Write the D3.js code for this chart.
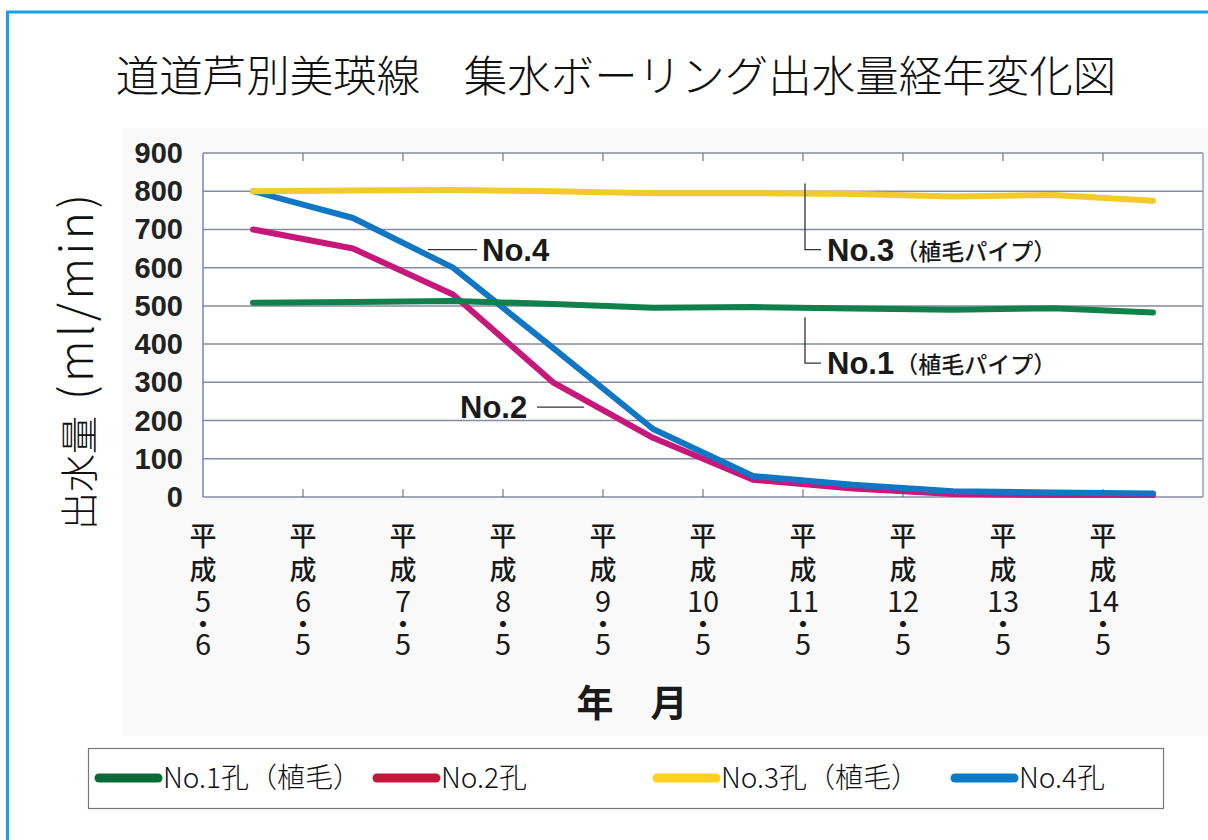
<!DOCTYPE html>
<html>
<head>
<meta charset="utf-8">
<script src="https://cdn.jsdelivr.net/npm/d3@7"></script>
<style>
  body { margin: 0; background: #fff; }
  svg { display: block; }
</style>
</head>
<body>
<svg id="chart" width="1208" height="840"></svg>
<script>
// categories (x axis, vertical text)
var years = ['5', '6', '7', '8', '9', '10', '11', '12', '13', '14'];
var months = ['6', '5', '5', '5', '5', '5', '5', '5', '5', '5'];
// series values (ml/min), one per year
var no1 = [508, 510, 513, 505, 495, 497, 493, 490, 494, 483];
var no2 = [700, 650, 530, 300, 155, 45, 22, 8, 5, 5];
var no3 = [800, 802, 803, 800, 795, 795, 793, 786, 790, 775];
var no4 = [800, 730, 600, 390, 178, 55, 32, 15, 12, 9];
var yTicks = [0, 100, 200, 300, 400, 500, 600, 700, 800, 900];

var series = [
  { name: 'No.2孔', values: no2, color: '#c8177a', legend: '#c4173c' },
  { name: 'No.4孔', values: no4, color: '#1177c4', legend: '#0a7bc4' },
  { name: 'No.1孔（植毛）', values: no1, color: '#12804a', legend: '#096b35' },
  { name: 'No.3孔（植毛）', values: no3, color: '#f1cb2b', legend: '#ffd022' }
];
var legendOrder = [2, 0, 3, 1];

var svg = d3.select('#chart');
var jp = '"Noto Sans CJK JP", "Noto Sans", sans-serif';
var lat = '"Liberation Sans", Arial, sans-serif';

// frame
svg.append('rect').attr('x', 122).attr('y', 128).attr('width', 1086).attr('height', 608).attr('fill', '#f9f9f9');
svg.append('line').attr('x1', 6).attr('x2', 1208).attr('y1', 12).attr('y2', 12)
  .attr('stroke', '#17a1e2').attr('stroke-width', 3);
svg.append('line').attr('x1', 7.5).attr('x2', 7.5).attr('y1', 11).attr('y2', 840)
  .attr('stroke', '#17a1e2').attr('stroke-width', 3);

// title
svg.append('text').attr('x', 616).attr('y', 92).attr('text-anchor', 'middle')
  .style('font-family', jp).style('font-size', '43.5px').style('font-weight', 300)
  .attr('fill', '#111').text('道道芦別美瑛線　集水ボーリング出水量経年変化図');

var plotLeft = 203, plotRight = 1203, plotTop = 153, plotBottom = 497;
var x = d3.scaleBand().domain(years).range([plotLeft, plotRight]).padding(0);
var y = d3.scaleLinear().domain([0, 900]).range([plotBottom, plotTop]);

svg.append('rect').attr('x', plotLeft).attr('y', plotTop)
  .attr('width', plotRight - plotLeft).attr('height', plotBottom - plotTop)
  .attr('fill', '#fff');

// grid
svg.selectAll('.grid').data(yTicks).enter().append('line')
  .attr('x1', plotLeft).attr('x2', plotRight)
  .attr('y1', function (d) { return y(d); })
  .attr('y2', function (d) { return y(d); })
  .attr('stroke', '#858ba0').attr('stroke-width', 1.5);
svg.append('line').attr('x1', plotRight).attr('x2', plotRight).attr('y1', plotTop).attr('y2', plotBottom)
  .attr('stroke', '#9aa0b4').attr('stroke-width', 1.5);
svg.append('line').attr('x1', plotLeft).attr('x2', plotLeft).attr('y1', plotTop).attr('y2', plotBottom)
  .attr('stroke', '#6f86c4').attr('stroke-width', 1.5);

// x ticks, top and bottom, inward
var inner = years.slice(1);
svg.selectAll('.tb').data(inner).enter().append('line')
  .attr('x1', function (d) { return x(d); }).attr('x2', function (d) { return x(d); })
  .attr('y1', plotBottom).attr('y2', plotBottom - 8).attr('stroke', '#777').attr('stroke-width', 1.2);
svg.selectAll('.tt').data(inner).enter().append('line')
  .attr('x1', function (d) { return x(d); }).attr('x2', function (d) { return x(d); })
  .attr('y1', plotTop).attr('y2', plotTop + 8).attr('stroke', '#777').attr('stroke-width', 1.2);

// y tick labels
svg.selectAll('.yl').data(yTicks).enter().append('text')
  .attr('x', 183).attr('y', function (d) { return y(d) + 10; })
  .attr('text-anchor', 'end')
  .style('font-family', lat).style('font-size', '29px').style('font-weight', 'bold')
  .attr('fill', '#222').text(function (d) { return d; });

// x labels, stacked vertically in one text each
var xl = svg.selectAll('.xl').data(years).enter().append('text')
  .attr('text-anchor', 'middle').style('font-family', jp).attr('fill', '#1a1a1a');
xl.each(function (d, i) {
  var t = d3.select(this);
  var cx = x(d);
  var rows = [['平', 546, 27, 500], ['成', 580, 27, 500], [d, 612, 29, 400], ['・', 633, 24, 700], [months[i], 655, 29, 400]];
  rows.forEach(function (r) {
    t.append('tspan').attr('x', cx).attr('y', r[1])
      .style('font-size', r[2] + 'px').style('font-weight', r[3]).text(r[0]);
  });
});

// axis titles
var yt = svg.append('text').attr('transform', 'translate(93,530) rotate(-90)').attr('text-anchor', 'start')
  .style('font-family', jp).style('font-weight', 300).attr('fill', '#111');
yt.append('tspan').style('font-size', '38px').text('出水量');
yt.append('tspan').style('font-size', '46px').style('letter-spacing', '3.5px').attr('dx', 16).text('(ml/min)');
svg.append('text').attr('x', 632).attr('y', 717).attr('text-anchor', 'middle')
  .style('font-family', jp).style('font-size', '37px').style('font-weight', 'bold')
  .attr('fill', '#1a1a1a').text('年　月');

// lines
var line = d3.line()
  .x(function (d, i) { return x(years[i]) + x.bandwidth() / 2; })
  .y(function (d) { return y(d); });
svg.selectAll('.series').data(series).enter().append('path')
  .attr('d', function (s) { return line(s.values); })
  .attr('fill', 'none').attr('stroke', function (s) { return s.color; })
  .attr('stroke-width', 6).attr('stroke-linejoin', 'round').attr('stroke-linecap', 'round');

// annotations
var ann = svg.append('g').attr('stroke', '#333').attr('stroke-width', 1.3).attr('fill', 'none');
ann.append('line').attr('x1', 428).attr('x2', 477).attr('y1', y(647)).attr('y2', y(647));
ann.append('line').attr('x1', 537).attr('x2', 584).attr('y1', y(235)).attr('y2', y(235));
ann.append('path').attr('d', 'M805,' + y(820) + 'V' + y(647) + 'H821');
ann.append('path').attr('d', 'M805,' + y(470) + 'V' + y(350) + 'H821');

function label(xp, yv, big, small) {
  var t = svg.append('text').attr('x', xp).attr('y', y(yv) + 11)
    .style('font-family', lat).style('font-weight', 'bold').attr('fill', '#1a1a1a');
  t.append('tspan').style('font-size', '31px').text(big);
  if (small) {
    t.append('tspan').style('font-family', jp).style('font-size', '23px').style('font-weight', 500)
      .attr('dx', 1).attr('dy', -1).text(small);
  }
}
label(482, 647, 'No.4');
label(460, 235, 'No.2');
label(827, 647, 'No.3', '（植毛パイプ）');
label(827, 350, 'No.1', '（植毛パイプ）');

// legend
svg.append('rect').attr('x', 88.5).attr('y', 748.5).attr('width', 1075).attr('height', 60)
  .attr('fill', '#fff').attr('stroke', '#777').attr('stroke-width', 1.2);
var lx = [97, 375, 655, 953];
var lg = svg.selectAll('.lg').data(legendOrder).enter().append('g')
  .attr('transform', function (d, i) { return 'translate(' + lx[i] + ',778)'; });
lg.append('line').attr('x1', 2).attr('x2', 61).attr('y1', 0).attr('y2', 0)
  .attr('stroke', function (d) { return series[d].legend; })
  .attr('stroke-width', 9).attr('stroke-linecap', 'round');
lg.append('text').attr('x', 66).attr('y', 10)
  .style('font-family', jp).style('font-size', '28px').style('font-weight', 300)
  .attr('fill', '#111').text(function (d) { return series[d].name; });
</script>
</body>
</html>
